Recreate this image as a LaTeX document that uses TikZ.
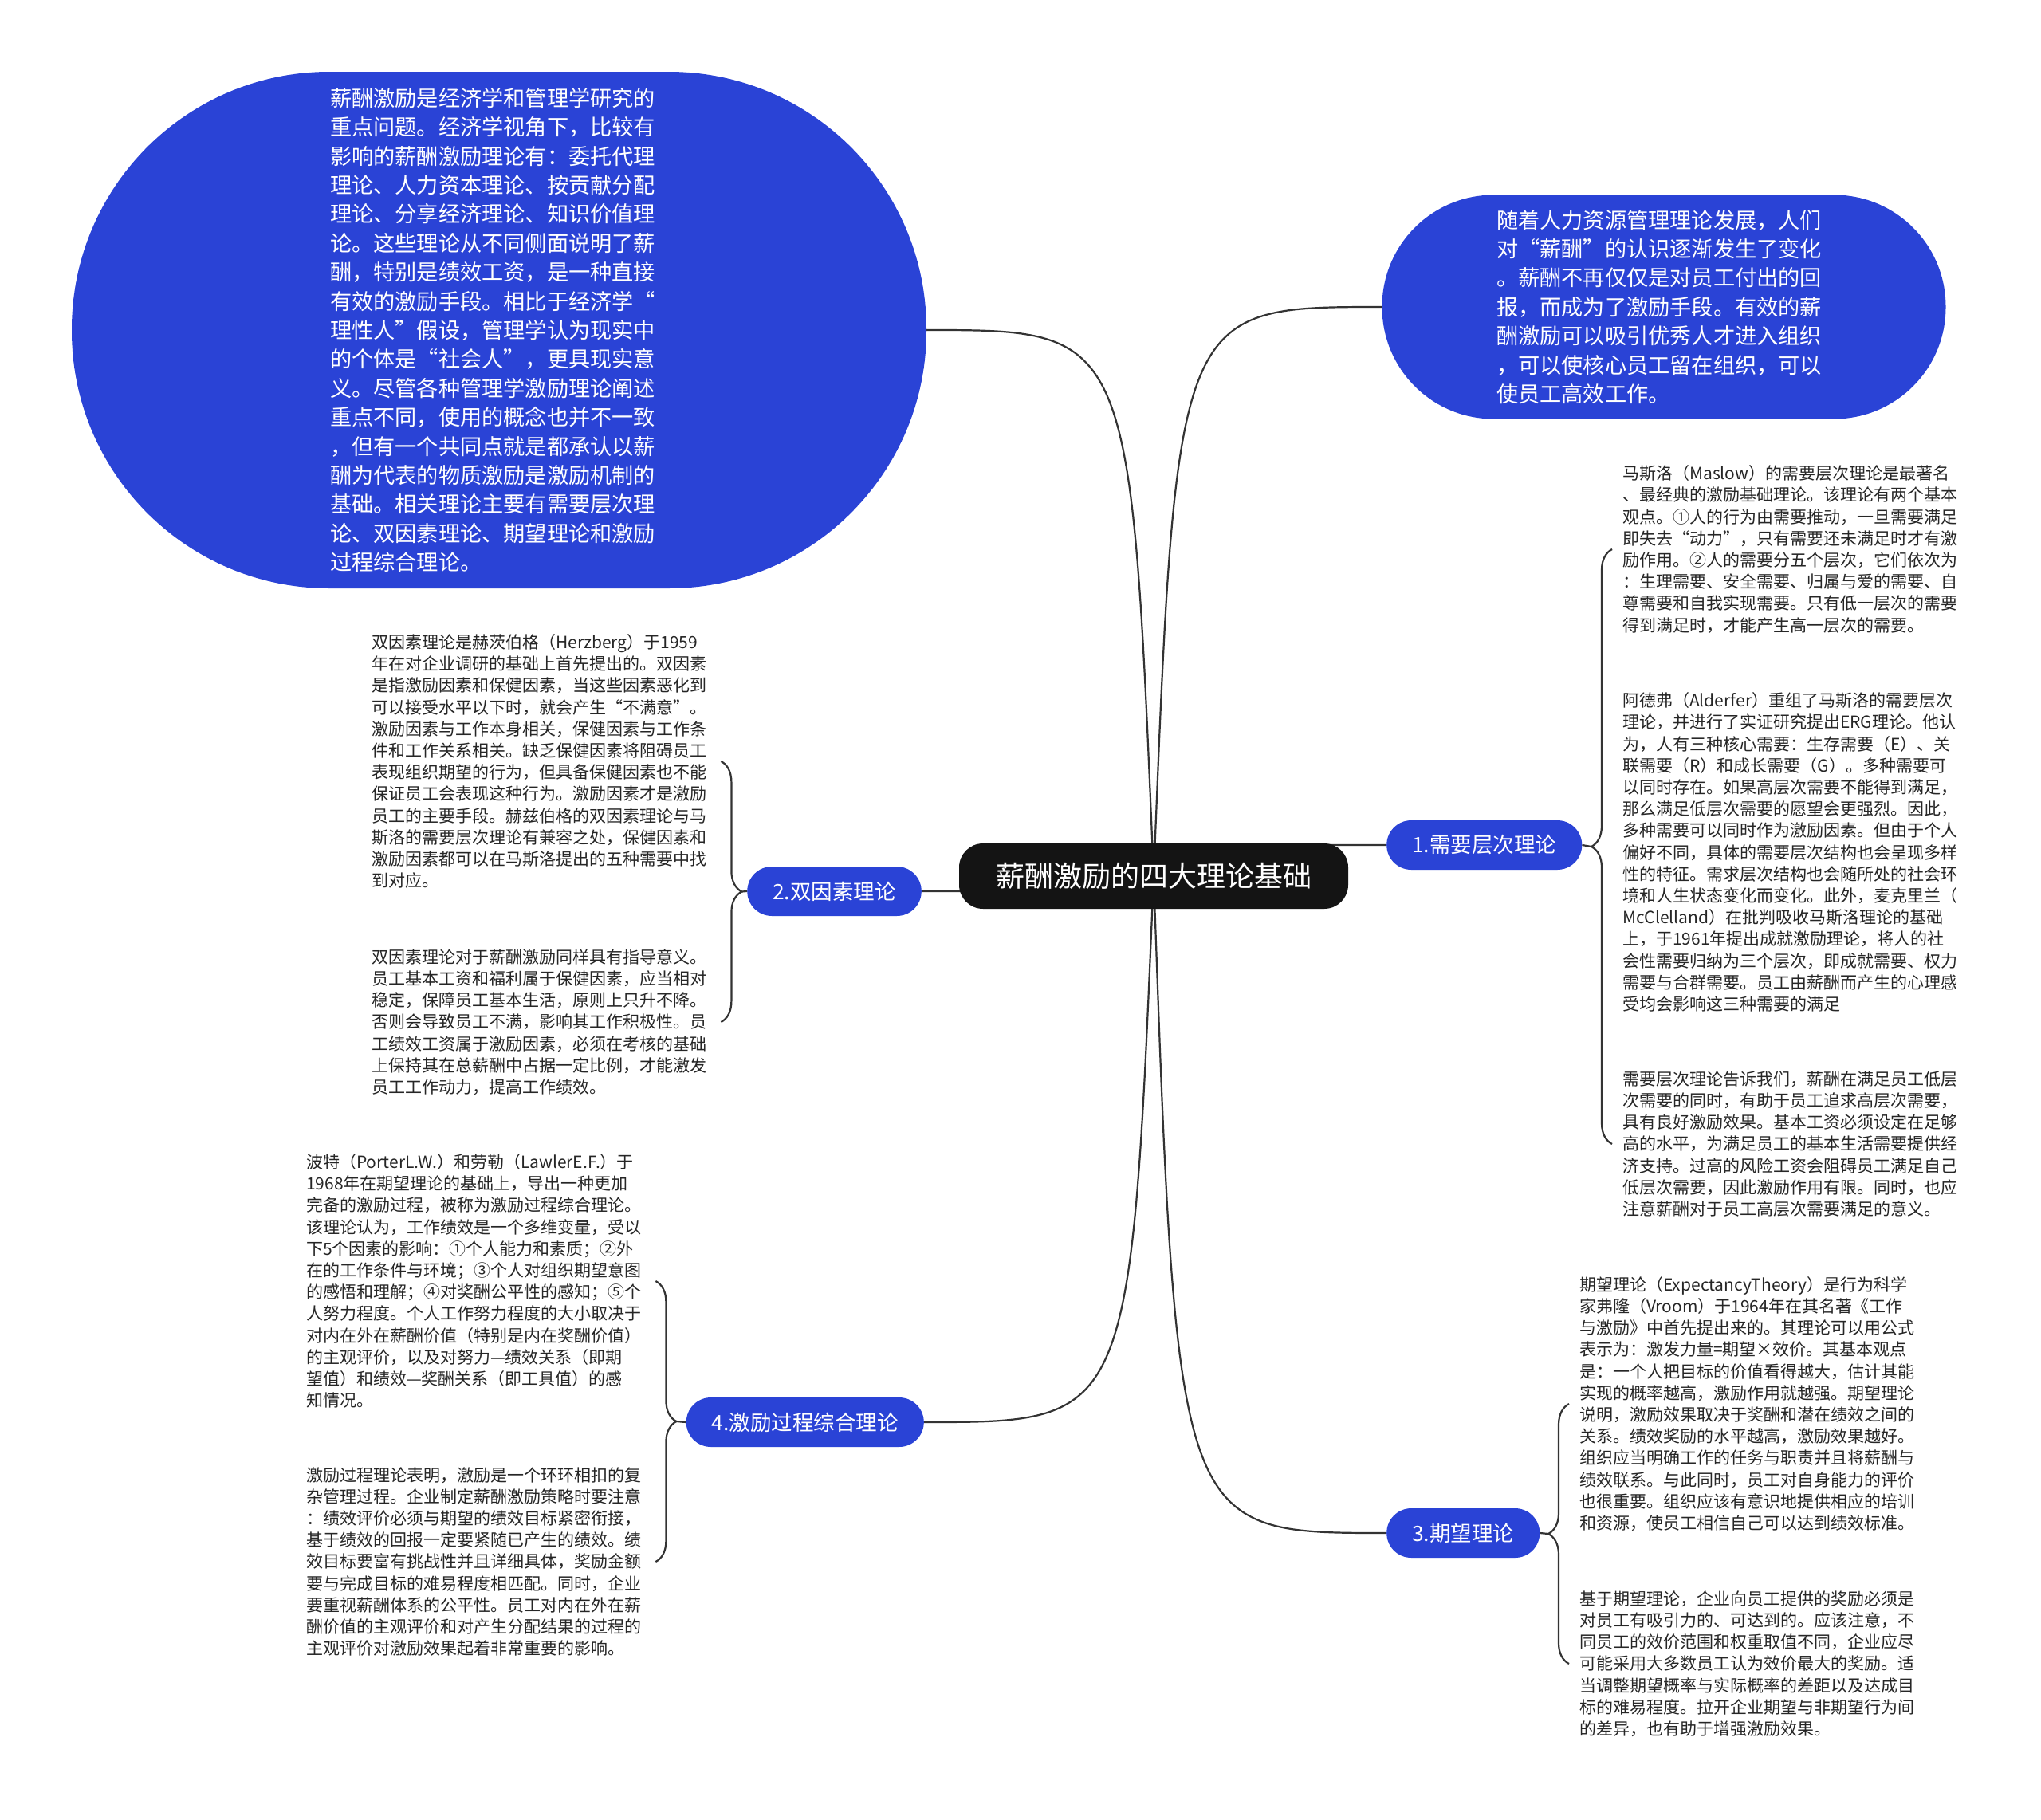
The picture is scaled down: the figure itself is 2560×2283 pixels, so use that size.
\documentclass[tikz,border=0pt]{standalone}
\usepackage{fontspec}
\setmainfont{Noto Sans CJK SC}
\usetikzlibrary{calc,positioning,decorations.pathreplacing,backgrounds}

\definecolor{nodeblue}{RGB}{42,67,214}
\definecolor{rootblack}{RGB}{20,20,20}
\definecolor{linegray}{RGB}{51,51,51}
\definecolor{leaftext}{RGB}{38,38,38}

\begin{document}
\begin{tikzpicture}[x=1pt, y=-1pt,
  link/.style={draw=linegray, line width=2.2pt},
  bracket/.style={draw=linegray, line width=2.2pt, decorate, decoration={brace, amplitude=26pt}},
  root/.style={fill=rootblack, text=white, rounded corners=30pt, minimum height=82pt, inner xsep=46pt, font=\fontsize{36}{44}\selectfont},
  topic/.style={fill=nodeblue, text=white, rounded corners=31pt, minimum height=62pt, inner xsep=32pt, font=\fontsize{26.5}{32}\selectfont},
  bubble/.style={fill=nodeblue, text=white, align=left, inner sep=0pt, font=\fontsize{27.2}{36.4}\selectfont},
  leaf/.style={text=leaftext, align=left, text width=425pt, inner sep=0pt, font=\fontsize{21}{27.2}\selectfont}]
  \useasboundingbox (0,0) rectangle (2560,2283);

  % Centre and the four theories
  \node[root] (root) at (1447,1099) {薪酬激励的四大理论基础};
  \node[topic, anchor=west] (b1) at (1739,1060) {1.需要层次理论};
  \node[topic, anchor=east] (b2) at (1156,1118) {2.双因素理论};
  \node[topic, anchor=west] (b3) at (1739,1923) {3.期望理论};
  \node[topic, anchor=east] (b4) at (1159,1784) {4.激励过程综合理论};

  % Top bubbles
  \node[bubble, minimum width=1072pt, minimum height=648pt, rounded corners=323pt, text width=424pt] (intro) at (626,414)
    {薪酬激励是经济学和管理学研究的\\重点问题。经济学视角下，比较有\\影响的薪酬激励理论有：委托代理\\理论、人力资本理论、按贡献分配\\理论、分享经济理论、知识价值理\\论。这些理论从不同侧面说明了薪\\酬，特别是绩效工资，是一种直接\\有效的激励手段。相比于经济学“\\理性人”假设，管理学认为现实中\\的个体是“社会人”，更具现实意\\义。尽管各种管理学激励理论阐述\\重点不同，使用的概念也并不一致\\，但有一个共同点就是都承认以薪\\酬为代表的物质激励是激励机制的\\基础。相关理论主要有需要层次理\\论、双因素理论、期望理论和激励\\过程综合理论。};
  \node[bubble, minimum width=707pt, minimum height=281pt, rounded corners=140pt, text width=420pt] (trend) at (2087,385)
    {随着人力资源管理理论发展，人们\\对“薪酬”的认识逐渐发生了变化\\。薪酬不再仅仅是对员工付出的回\\报，而成为了激励手段。有效的薪\\酬激励可以吸引优秀人才进入组织\\，可以使核心员工留在组织，可以\\使员工高效工作。};

  % Right side: need hierarchy
  \node[leaf, anchor=west] (l1a) at (2035,689)
    {马斯洛（Maslow）的需要层次理论是最著名\\、最经典的激励基础理论。该理论有两个基本\\观点。①人的行为由需要推动，一旦需要满足\\即失去“动力”，只有需要还未满足时才有激\\励作用。②人的需要分五个层次，它们依次为\\：生理需要、安全需要、归属与爱的需要、自\\尊需要和自我实现需要。只有低一层次的需要\\得到满足时，才能产生高一层次的需要。};
  \node[leaf, anchor=west] (l1b) at (2035,1069)
    {阿德弗（Alderfer）重组了马斯洛的需要层次\\理论，并进行了实证研究提出ERG理论。他认\\为，人有三种核心需要：生存需要（E）、关\\联需要（R）和成长需要（G）。多种需要可\\以同时存在。如果高层次需要不能得到满足，\\那么满足低层次需要的愿望会更强烈。因此，\\多种需要可以同时作为激励因素。但由于个人\\偏好不同，具体的需要层次结构也会呈现多样\\性的特征。需求层次结构也会随所处的社会环\\境和人生状态变化而变化。此外，麦克里兰（\\McClelland）在批判吸收马斯洛理论的基础\\上，于1961年提出成就激励理论，将人的社\\会性需要归纳为三个层次，即成就需要、权力\\需要与合群需要。员工由薪酬而产生的心理感\\受均会影响这三种需要的满足};
  \node[leaf, anchor=west] (l1c) at (2035,1435)
    {需要层次理论告诉我们，薪酬在满足员工低层\\次需要的同时，有助于员工追求高层次需要，\\具有良好激励效果。基本工资必须设定在足够\\高的水平，为满足员工的基本生活需要提供经\\济支持。过高的风险工资会阻碍员工满足自己\\低层次需要，因此激励作用有限。同时，也应\\注意薪酬对于员工高层次需要满足的意义。};

  % Right side: expectancy
  \node[leaf, anchor=west] (l3a) at (1981,1761)
    {期望理论（ExpectancyTheory）是行为科学\\家弗隆（Vroom）于1964年在其名著《工作\\与激励》中首先提出来的。其理论可以用公式\\表示为：激发力量=期望×效价。其基本观点\\是：一个人把目标的价值看得越大，估计其能\\实现的概率越高，激励作用就越强。期望理论\\说明，激励效果取决于奖酬和潜在绩效之间的\\关系。绩效奖励的水平越高，激励效果越好。\\组织应当明确工作的任务与职责并且将薪酬与\\绩效联系。与此同时，员工对自身能力的评价\\也很重要。组织应该有意识地提供相应的培训\\和资源，使员工相信自己可以达到绩效标准。};
  \node[leaf, anchor=west] (l3b) at (1981,2087)
    {基于期望理论，企业向员工提供的奖励必须是\\对员工有吸引力的、可达到的。应该注意，不\\同员工的效价范围和权重取值不同，企业应尽\\可能采用大多数员工认为效价最大的奖励。适\\当调整期望概率与实际概率的差距以及达成目\\标的难易程度。拉开企业期望与非期望行为间\\的差异，也有助于增强激励效果。};

  % Left side: two factors
  \node[leaf, anchor=west] (l2a) at (466,955)
    {双因素理论是赫茨伯格（Herzberg）于1959\\年在对企业调研的基础上首先提出的。双因素\\是指激励因素和保健因素，当这些因素恶化到\\可以接受水平以下时，就会产生“不满意”。\\激励因素与工作本身相关，保健因素与工作条\\件和工作关系相关。缺乏保健因素将阻碍员工\\表现组织期望的行为，但具备保健因素也不能\\保证员工会表现这种行为。激励因素才是激励\\员工的主要手段。赫兹伯格的双因素理论与马\\斯洛的需要层次理论有兼容之处，保健因素和\\激励因素都可以在马斯洛提出的五种需要中找\\到对应。};
  \node[leaf, anchor=west] (l2b) at (466,1282)
    {双因素理论对于薪酬激励同样具有指导意义。\\员工基本工资和福利属于保健因素，应当相对\\稳定，保障员工基本生活，原则上只升不降。\\否则会导致员工不满，影响其工作积极性。员\\工绩效工资属于激励因素，必须在考核的基础\\上保持其在总薪酬中占据一定比例，才能激发\\员工工作动力，提高工作绩效。};

  % Left side: process theory
  \node[leaf, anchor=west] (l4a) at (384,1607)
    {波特（PorterL.W.）和劳勒（LawlerE.F.）于\\1968年在期望理论的基础上，导出一种更加\\完备的激励过程，被称为激励过程综合理论。\\该理论认为，工作绩效是一个多维变量，受以\\下5个因素的影响：①个人能力和素质；②外\\在的工作条件与环境；③个人对组织期望意图\\的感悟和理解；④对奖酬公平性的感知；⑤个\\人努力程度。个人工作努力程度的大小取决于\\对内在外在薪酬价值（特别是内在奖酬价值）\\的主观评价，以及对努力—绩效关系（即期\\望值）和绩效—奖酬关系（即工具值）的感\\知情况。};
  \node[leaf, anchor=west] (l4b) at (384,1959)
    {激励过程理论表明，激励是一个环环相扣的复\\杂管理过程。企业制定薪酬激励策略时要注意\\：绩效评价必须与期望的绩效目标紧密衔接，\\基于绩效的回报一定要紧随已产生的绩效。绩\\效目标要富有挑战性并且详细具体，奖励金额\\要与完成目标的难易程度相匹配。同时，企业\\要重视薪酬体系的公平性。员工对内在外在薪\\酬价值的主观评价和对产生分配结果的过程的\\主观评价对激励效果起着非常重要的影响。};

  % Brackets and their tips
  \draw[bracket] ([xshift=-13pt]l1c.west) -- ([xshift=-13pt]l1a.west);
  \draw[bracket] ([xshift=-13pt]l3b.west) -- ([xshift=-13pt]l3a.west);
  \draw[bracket] ([xshift=13pt]l2a.east) -- ([xshift=13pt]l2b.east);
  \draw[bracket] ([xshift=13pt]l4a.east) -- ([xshift=13pt]l4b.east);
  \coordinate (k1) at ($([xshift=-39pt]l1a.west)!.5!([xshift=-39pt]l1c.west)$);
  \coordinate (k3) at ($([xshift=-39pt]l3a.west)!.5!([xshift=-39pt]l3b.west)$);
  \coordinate (k2) at ($([xshift=39pt]l2a.east)!.5!([xshift=39pt]l2b.east)$);
  \coordinate (k4) at ($([xshift=39pt]l4a.east)!.5!([xshift=39pt]l4b.east)$);
  \draw[link] (b1.east) -- (k1);
  \draw[link] (b3.east) -- (k3);
  \draw[link] (b2.west) -- (k2);
  \draw[link] (b4.west) -- (k4);

  % Curves from the centre
  \begin{scope}[on background layer]
    \fill[white] (0,0) rectangle (2560,2283);
    \draw[link] (root.center) .. controls ($(root.center |- intro.east)!.1!(intro.east)$) .. (intro.east);
    \draw[link] (root.center) .. controls ($(root.center |- trend.west)!.1!(trend.west)$) .. (trend.west);
    \draw[link] (root.center) .. controls ($(root.center |- b1.west)!.1!(b1.west)$) .. (b1.west);
    \draw[link] (root.center) .. controls ($(root.center |- b2.east)!.1!(b2.east)$) .. (b2.east);
    \draw[link] (root.center) .. controls ($(root.center |- b3.west)!.1!(b3.west)$) .. (b3.west);
    \draw[link] (root.center) .. controls ($(root.center |- b4.east)!.1!(b4.east)$) .. (b4.east);
  \end{scope}
\end{tikzpicture}
\end{document}
